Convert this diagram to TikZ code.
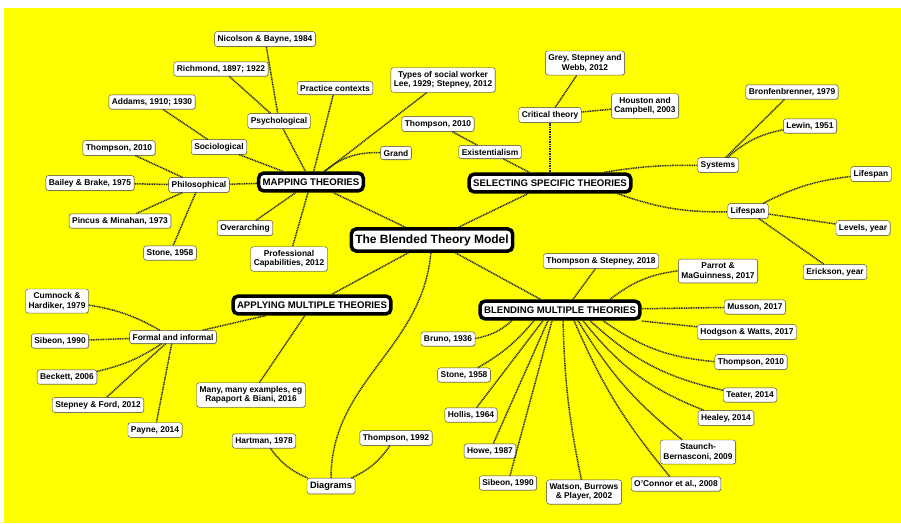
\documentclass[tikz,border=0pt]{standalone}
\usepackage{fontspec}
\setsansfont{Liberation Sans}
\usetikzlibrary{shadows}
\definecolor{mapyellow}{RGB}{255,255,0}
\tikzset{
  leaf/.style={draw=black!75, fill=white, rounded corners=2.5pt, align=center,
    inner xsep=3pt, inner ysep=3.5pt,
    font=\sffamily\bfseries\fontsize{8.4}{9.6}\selectfont,
    drop shadow={shadow xshift=0.7pt, shadow yshift=-0.7pt, opacity=0.35}},
  hub/.style={draw=black, line width=3.5pt, fill=white, rounded corners=5pt,
    inner xsep=4pt, inner ysep=5.5pt,
    font=\sffamily\bfseries\fontsize{9.6}{11}\selectfont},
  link/.style={line width=1.5pt, black!85, dash pattern=on 1pt off 0.7pt}
}

\begin{document}
\begin{tikzpicture}[x=1pt, y=-1pt]

\useasboundingbox[fill=white] (0,0) rectangle (901,524);
\fill[mapyellow] (4,8) rectangle (901,523);

% main branches
\node[hub, font=\sffamily\bfseries\fontsize{12}{14}\selectfont] (blended) at (432,240) {The Blended Theory Model};
\node[hub] (map) at (311,182) {MAPPING THEORIES};
\node[hub] (sel) at (550,183) {SELECTING SPECIFIC THEORIES};
\node[hub] (apply) at (312,305) {APPLYING MULTIPLE THEORIES};
\node[hub] (blend) at (560,310) {BLENDING MULTIPLE THEORIES};

% mapping theories
\node[leaf] (nicolson) at (265,39) {Nicolson \& Bayne, 1984};
\node[leaf] (richmond) at (221,69) {Richmond, 1897; 1922};
\node[leaf] (practice) at (335,88) {Practice contexts};
\node[leaf] (types) at (443,80) {Types of social worker\\Lee, 1929; Stepney, 2012};
\node[leaf] (addams) at (152,102) {Addams, 1910; 1930};
\node[leaf] (psych) at (279,121) {Psychological};
\node[leaf] (socio) at (219,147) {Sociological};
\node[leaf] (grand) at (396,153) {Grand};
\node[leaf] (thomL) at (119,148) {Thompson, 2010};
\node[leaf] (philo) at (199,185) {Philosophical};
\node[leaf] (bailey) at (90,183) {Bailey \& Brake, 1975};
\node[leaf] (pincus) at (120,221) {Pincus \& Minahan, 1973};
\node[leaf] (overarch) at (245,228) {Overarching};
\node[leaf] (stoneL) at (170,253) {Stone, 1958};
\node[leaf] (prof) at (289,259) {Professional\\Capabilities, 2012};

% selecting specific theories
\node[leaf] (thomE) at (438,124) {Thompson, 2010};
\node[leaf] (exist) at (490,152) {Existentialism};
\node[leaf] (grey) at (585,63) {Grey, Stepney and\\Webb, 2012};
\node[leaf] (houston) at (645,106) {Houston and\\Campbell, 2003};
\node[leaf] (critical) at (550,115) {Critical theory};
\node[leaf] (bronf) at (792,92) {Bronfenbrenner, 1979};
\node[leaf] (lewin) at (810,126) {Lewin, 1951};
\node[leaf] (systems) at (718,165) {Systems};
\node[leaf] (lifeR) at (871,174) {Lifespan};
\node[leaf] (life) at (748,211) {Lifespan};
\node[leaf] (levels) at (863,228) {Levels, year};
\node[leaf] (erickson) at (835,272) {Erickson, year};

% blending multiple theories
\node[leaf] (thomS) at (601,261) {Thompson \& Stepney, 2018};
\node[leaf] (parrot) at (718,271) {Parrot \&\\MaGuinness, 2017};
\node[leaf] (musson) at (755,307) {Musson, 2017};
\node[leaf] (hodgson) at (747,332) {Hodgson \& Watts, 2017};
\node[leaf] (thomR) at (751,362) {Thompson, 2010};
\node[leaf] (teater) at (750,395) {Teater, 2014};
\node[leaf] (healey) at (726,418) {Healey, 2014};
\node[leaf] (staunch) at (698,452) {Staunch-\\Bernasconi, 2009};
\node[leaf] (oconnor) at (676,484) {O'Connor et al., 2008};
\node[leaf] (watson) at (584,492) {Watson, Burrows\\\& Player, 2002};
\node[leaf] (sibeonR) at (508,483) {Sibeon, 1990};
\node[leaf] (howe) at (490,451) {Howe, 1987};
\node[leaf] (hollis) at (471,415) {Hollis, 1964};
\node[leaf] (stoneR) at (464,375) {Stone, 1958};
\node[leaf] (bruno) at (448,339) {Bruno, 1936};

% applying multiple theories
\node[leaf] (cumnock) at (57,301) {Cumnock \&\\Hardiker, 1979};
\node[leaf] (sibeonL) at (60,341) {Sibeon, 1990};
\node[leaf] (formal) at (173,337) {Formal and informal};
\node[leaf] (beckett) at (67,377) {Beckett, 2006};
\node[leaf] (stepford) at (98,405) {Stepney \& Ford, 2012};
\node[leaf] (payne) at (155,430) {Payne, 2014};
\node[leaf] (many) at (251,395) {Many, many examples, eg\\Rapaport \& Biani, 2016};
\node[leaf] (hartman) at (264,441) {Hartman, 1978};
\node[leaf] (thom92) at (396,438) {Thompson, 1992};
\node[leaf, font=\sffamily\bfseries\fontsize{9.2}{11}\selectfont] (diagrams) at (331,486) {Diagrams};

% connectors
\draw[link] (blended) -- (map);
\draw[link] (blended) -- (sel);
\draw[link] (blended) -- (apply);
\draw[link] (blended) -- (blend);
\draw[link] (blended) to[out=-95, in=90] (diagrams);

\draw[link] (map) -- (philo);
\draw[link] (map) -- (socio);
\draw[link] (map) -- (psych);
\draw[link] (map) -- (practice);
\draw[link] (map) -- (types);
\draw[link] (map) to[bend left=20] (grand);
\draw[link] (map) -- (overarch);
\draw[link] (map) -- (prof);
\draw[link] (psych) -- (richmond);
\draw[link] (psych) -- (nicolson);
\draw[link] (socio) -- (addams);
\draw[link] (philo) -- (thomL);
\draw[link] (philo) -- (bailey);
\draw[link] (philo) -- (pincus);
\draw[link] (philo) -- (stoneL);

\draw[link] (sel) -- (exist);
\draw[link] (exist) -- (thomE);
\draw[link] (sel) -- (critical);
\draw[link] (critical) -- (grey);
\draw[link] (critical) -- (houston);
\draw[link] (sel) to[bend left=5] (systems);
\draw[link] ([xshift=-15pt]sel.south east) to[bend right=10] (life);
\draw[link] (systems) -- (bronf);
\draw[link] (systems) to[bend left=15] (lewin);
\draw[link] (life) to[bend left=10] (lifeR);
\draw[link] (life) -- (levels);
\draw[link] (life) -- (erickson);

\draw[link] ([xshift=13pt]blend.north) -- (thomS);
\draw[link] ([xshift=50pt]blend.north) to[bend left=15] (parrot);
\draw[link] (blend) -- (musson);
\draw[link] ([yshift=-11pt]blend.east) -- (hodgson);
\draw[link] ([xshift=43pt]blend.south) to[bend right=15] (thomR);
\draw[link] ([xshift=30pt]blend.south) to[bend right=15] (teater);
\draw[link] ([xshift=23pt]blend.south) to[bend right=15] (healey);
\draw[link] ([xshift=18pt]blend.south) to[bend right=10] (staunch);
\draw[link] ([xshift=14pt]blend.south) to[bend right=8] (oconnor);
\draw[link] ([xshift=3pt]blend.south) to[bend right=5] (watson);
\draw[link] ([xshift=-8pt]blend.south) -- (sibeonR);
\draw[link] ([xshift=-12pt]blend.south) -- (howe);
\draw[link] ([xshift=-17pt]blend.south) -- (hollis);
\draw[link] ([xshift=-26pt]blend.south) to[bend left=10] (stoneR);
\draw[link] ([xshift=-48pt]blend.south) to[bend left=15] (bruno);

\draw[link] (apply) -- (formal);
\draw[link] (apply) -- (many);
\draw[link] (formal) to[bend right=10] (cumnock);
\draw[link] (formal) -- (sibeonL);
\draw[link] (formal) to[bend left=10] (beckett);
\draw[link] (formal) -- (stepford);
\draw[link] (formal) -- (payne);
\draw[link] (diagrams) to[bend left=15] (hartman);
\draw[link] (diagrams) to[bend right=15] (thom92);

\end{tikzpicture}
\end{document}
